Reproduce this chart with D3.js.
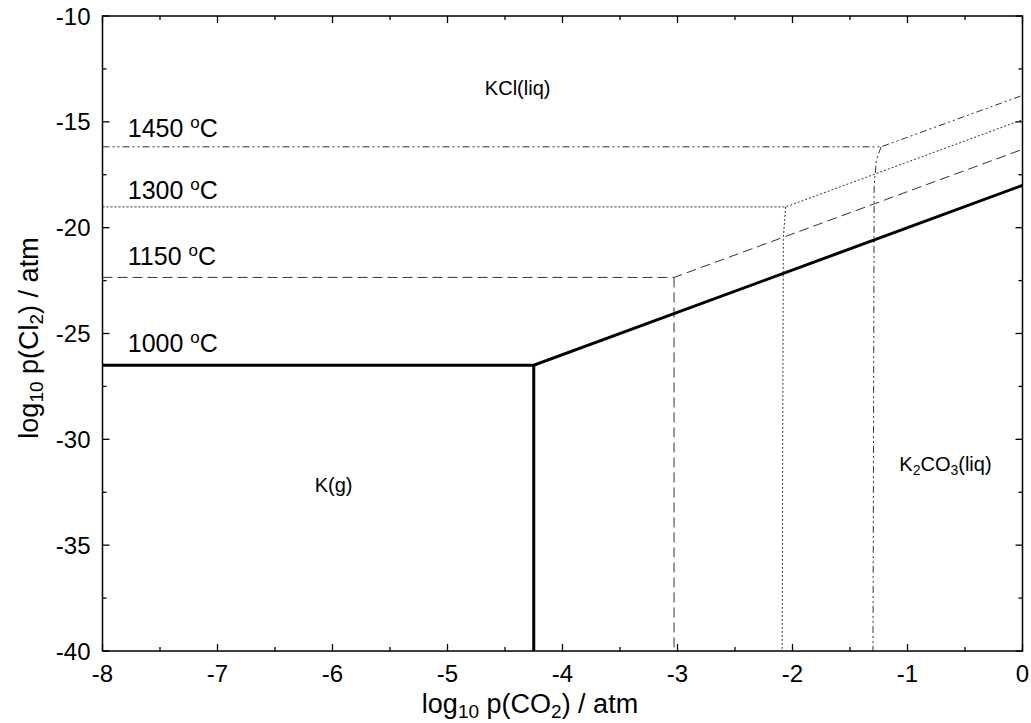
<!DOCTYPE html>
<html>
<head>
<meta charset="utf-8">
<script src="https://cdn.jsdelivr.net/npm/d3@7"></script>
<style>
  body { margin: 0; background: #fff; }
  svg { font-family: "Liberation Sans", Arial, sans-serif; }
</style>
</head>
<body>
<div id="chart"></div>
<script>
// series: [log pCO2, log pCl2] points for each temperature
var line1000 = [[-8, -26.5], [-4.25, -26.5], [0, -18.0]];
var vert1000 = [[-4.25, -26.5], [-4.25, -40]];
var line1150 = [[-8, -22.35], [-3.03, -22.35], [0, -16.3]];
var vert1150 = [[-3.03, -22.35], [-3.03, -40]];
var line1300 = [[-8, -19.02], [-2.06, -19.02], [0, -14.9]];
var vert1300 = [[-2.06, -19.02], [-2.08, -20.5], [-2.09, -40]];
var line1450 = [[-8, -16.18], [-1.23, -16.18], [0, -13.75]];
var vert1450 = [[-1.23, -16.18], [-1.27, -16.8], [-1.29, -18.0], [-1.30, -40]];

var tempLabels = ["1450 °C", "1300 °C", "1150 °C", "1000 °C"];
var tempLabelY = [-15.72, -18.64, -21.76, -25.87];

var xTicks = [-8, -7, -6, -5, -4, -3, -2, -1, 0];
var yTicks = [-10, -15, -20, -25, -30, -35, -40];

var width = 1031, height = 723;
var margin = {left: 102.5, right: 8.5, top: 16, bottom: 72};

var svg = d3.select("#chart").append("svg")
    .attr("width", width)
    .attr("height", height);

var xScale = d3.scaleLinear().domain([-8, 0]).range([margin.left, width - margin.right]);
var yScale = d3.scaleLinear().domain([-40, -10]).range([height - margin.bottom, margin.top]);

var x0 = margin.left, x1 = width - margin.right;
var y0 = height - margin.bottom, y1 = margin.top;

// ticks (inward) on all four sides
var minorX = d3.range(-7.5, 0, 1);
var minorY = d3.range(-37.5, -10, 5);
var ticks = svg.append("g").attr("stroke", "#000").attr("stroke-width", 1.3);
xTicks.forEach(function (t) {
    ticks.append("line").attr("x1", xScale(t)).attr("x2", xScale(t)).attr("y1", y0).attr("y2", y0 - 7);
    ticks.append("line").attr("x1", xScale(t)).attr("x2", xScale(t)).attr("y1", y1).attr("y2", y1 + 7);
});
minorX.forEach(function (t) {
    ticks.append("line").attr("x1", xScale(t)).attr("x2", xScale(t)).attr("y1", y0).attr("y2", y0 - 4);
    ticks.append("line").attr("x1", xScale(t)).attr("x2", xScale(t)).attr("y1", y1).attr("y2", y1 + 4);
});
yTicks.forEach(function (t) {
    ticks.append("line").attr("y1", yScale(t)).attr("y2", yScale(t)).attr("x1", x0).attr("x2", x0 + 7);
    ticks.append("line").attr("y1", yScale(t)).attr("y2", yScale(t)).attr("x1", x1).attr("x2", x1 - 7);
});
minorY.forEach(function (t) {
    ticks.append("line").attr("y1", yScale(t)).attr("y2", yScale(t)).attr("x1", x0).attr("x2", x0 + 4);
    ticks.append("line").attr("y1", yScale(t)).attr("y2", yScale(t)).attr("x1", x1).attr("x2", x1 - 4);
});

// tick labels
svg.append("g").selectAll("text").data(xTicks).enter().append("text")
    .attr("x", function (d) { return xScale(d); })
    .attr("y", y0 + 31)
    .attr("text-anchor", "middle")
    .attr("font-size", 24)
    .text(function (d) { return d; });

svg.append("g").selectAll("text").data(yTicks).enter().append("text")
    .attr("x", x0 - 12)
    .attr("y", function (d) { return yScale(d) + 8.5; })
    .attr("text-anchor", "end")
    .attr("font-size", 24)
    .text(function (d) { return d; });

// lines
var line = d3.line().x(function (d) { return xScale(d[0]); }).y(function (d) { return yScale(d[1]); });

function draw(pts, w, dash, col) {
    svg.append("path")
        .attr("d", line(pts))
        .attr("fill", "none")
        .attr("stroke", col)
        .attr("stroke-width", w)
        .attr("stroke-dasharray", dash);
}

draw(line1450, 1, "7,3,2,3,2,3", "#333");
draw(vert1450, 1, "7,3,2,3,2,3", "#333");
draw(line1300, 1, "2,2", "#333");
draw(vert1300, 1, "2,2", "#333");
draw(line1150, 1, "10,5", "#333");
draw(vert1150, 1, "10,5", "#333");
draw(line1000, 3, null, "#000");
draw(vert1000, 3, null, "#000");

// frame
svg.append("rect")
    .attr("x", x0).attr("y", y1)
    .attr("width", x1 - x0).attr("height", y0 - y1)
    .attr("fill", "none").attr("stroke", "#000").attr("stroke-width", 1.5);

// temperature labels
tempLabels.forEach(function (t, i) {
    var parts = t.split(" °");
    var txt = svg.append("text")
        .attr("x", xScale(-7.78))
        .attr("y", yScale(tempLabelY[i]))
        .attr("font-size", 25);
    txt.append("tspan").text(parts[0] + " ");
    txt.append("tspan").attr("dy", -9).attr("font-size", 17).text("o");
    txt.append("tspan").attr("dy", 9).text("C");
});

// region labels
svg.append("text").attr("x", xScale(-4.39)).attr("y", yScale(-13.74))
    .attr("font-size", 20).attr("text-anchor", "middle").text("KCl(liq)");
svg.append("text").attr("x", xScale(-5.99)).attr("y", yScale(-32.48))
    .attr("font-size", 20).attr("text-anchor", "middle").text("K(g)");
var kc = svg.append("text").attr("x", xScale(-0.67)).attr("y", yScale(-31.5))
    .attr("font-size", 20).attr("text-anchor", "middle");
kc.append("tspan").text("K");
kc.append("tspan").attr("font-size", 14).attr("dy", 4).text("2");
kc.append("tspan").attr("dy", -4).text("CO");
kc.append("tspan").attr("font-size", 14).attr("dy", 4).text("3");
kc.append("tspan").attr("dy", -4).text("(liq)");

// axis titles
var xt = svg.append("text")
    .attr("x", 530).attr("y", 713)
    .attr("text-anchor", "middle").attr("font-size", 27);
xt.append("tspan").text("log");
xt.append("tspan").attr("font-size", 19).attr("dy", 5).text("10");
xt.append("tspan").attr("dy", -5).text(" p(CO");
xt.append("tspan").attr("font-size", 19).attr("dy", 5).text("2");
xt.append("tspan").attr("dy", -5).text(") / atm");

var yt = svg.append("text")
    .attr("transform", "translate(38,338) rotate(-90)")
    .attr("text-anchor", "middle").attr("font-size", 27);
yt.append("tspan").text("log");
yt.append("tspan").attr("font-size", 19).attr("dy", 5).text("10");
yt.append("tspan").attr("dy", -5).text(" p(Cl");
yt.append("tspan").attr("font-size", 19).attr("dy", 5).text("2");
yt.append("tspan").attr("dy", -5).text(") / atm");
</script>
</body>
</html>
